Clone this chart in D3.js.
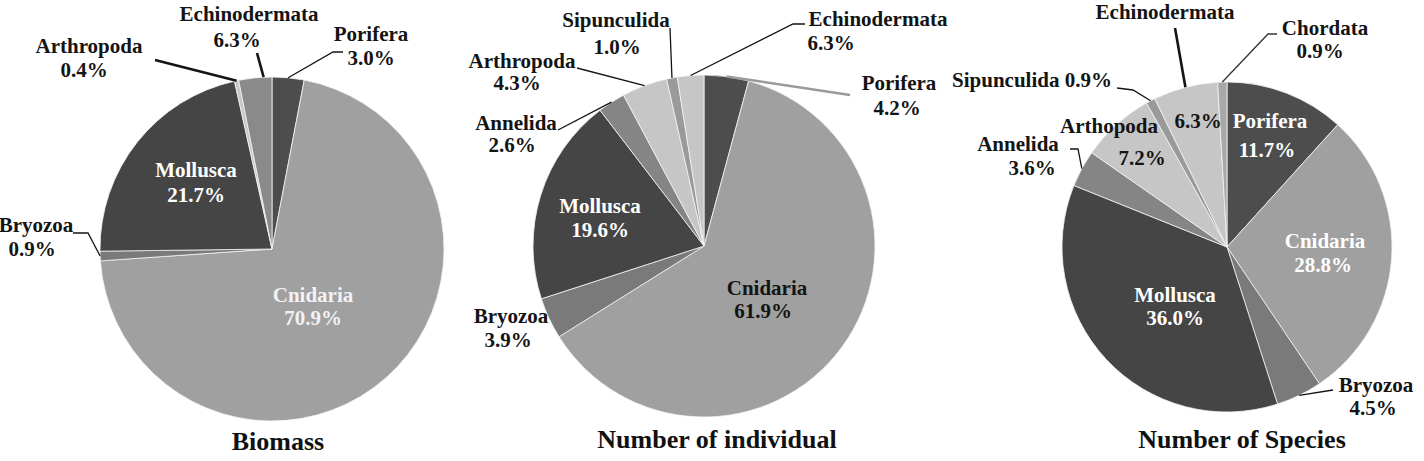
<!DOCTYPE html>
<html>
<head>
<meta charset="utf-8">
<script src="https://cdn.jsdelivr.net/npm/d3@7"></script>
<style>
  body { margin: 0; background: #fff; }
  text { font-family: "Liberation Serif", "Times New Roman", serif; font-weight: bold; }
</style>
</head>
<body>
<svg id="chart"></svg>
<script>
// --- data ---
const biomassTaxa = ["Porifera", "Cnidaria", "Bryozoa", "Mollusca", "Arthropoda", "Echinodermata"]
const biomassShare = [3.0, 70.9, 0.9, 21.7, 0.4, 3.1]          // slice sizes as drawn
const biomassPct = ["3.0%", "70.9%", "0.9%", "21.7%", "0.4%", "6.3%"] // printed labels

const individualTaxa = ["Porifera", "Cnidaria", "Bryozoa", "Mollusca", "Annelida", "Arthropoda", "Sipunculida", "Echinodermata"]
const individualShare = [4.2, 61.9, 3.9, 19.6, 2.6, 4.3, 1.0, 2.5]
const individualPct = ["4.2%", "61.9%", "3.9%", "19.6%", "2.6%", "4.3%", "1.0%", "6.3%"]

const speciesTaxa = ["Porifera", "Cnidaria", "Bryozoa", "Mollusca", "Annelida", "Arthopoda", "Sipunculida", "Echinodermata", "Chordata"]
const speciesShare = [11.7, 28.8, 4.5, 36.0, 3.6, 7.2, 0.9, 6.3, 0.9]
const speciesPct = ["11.7%", "28.8%", "4.5%", "36.0%", "3.6%", "7.2%", "0.9%", "6.3%", "0.9%"]

const titles = ["Biomass", "Number of individual", "Number of Species"]

// --- layout / style ---
const width = 1424
const height = 461
const ink = "#141414"

const svg = d3.select("#chart").attr("width", width).attr("height", height)

const charts = [
  {
    taxa: biomassTaxa, values: biomassShare, pcts: biomassPct, title: titles[0],
    cx: 272, cy: 249, r: 172, titleAt: [6, 201],
    colors: ["#4d4d4d", "#a0a0a0", "#7a7a7a", "#454545", "#c8c8c8", "#8a8a8a"],
    labels: [
      { name: "Porifera", at: [99, -208], pctAt: [99, -184], leader: [[71, -197], [61, -197]] },
      { name: "Cnidaria", at: [41, 53], pctAt: [41, 76], fill: "#f2f2f2" },
      { name: "Bryozoa", at: [-236, -17], pctAt: [-240, 7], leader: [[-199, -16], [-184, -16]] },
      { name: "Mollusca", at: [-76, -72], pctAt: [-76, -47], fill: "#fff" },
      { name: "Arthropoda", at: [-183, -196], pctAt: [-188, -172], leader: [[-117, -189]], lw: 2.6 },
      { name: "Echinodermata", at: [-23, -228], pctAt: [-35, -202], leader: [[-15, -196]], t: 0.75, lw: 2.6 }
    ]
  },
  {
    taxa: individualTaxa, values: individualShare, pcts: individualPct, title: titles[1],
    cx: 704, cy: 246, r: 171, titleAt: [13, 202],
    colors: ["#4d4d4d", "#a0a0a0", "#7a7a7a", "#454545", "#858585", "#c6c6c6", "#9a9a9a", "#c6c6c6"],
    labels: [
      { name: "Porifera", at: [195, -156], pctAt: [193, -131], leader: [[146, -151]], lc: "#9a9a9a", lw: 2.5 },
      { name: "Cnidaria", at: [63, 49], pctAt: [59, 72] },
      { name: "Bryozoa", at: [-193, 77], pctAt: [-196, 101] },
      { name: "Mollusca", at: [-104, -33], pctAt: [-104, -9], fill: "#fff" },
      { name: "Annelida", at: [-188, -116], pctAt: [-192, -94], leader: [[-146, -116]] },
      { name: "Arthropoda", at: [-182, -178], pctAt: [-187, -156], leader: [[-127, -178]] },
      { name: "Sipunculida", at: [-88, -219], pctAt: [-87, -192], leader: [[-34, -218]] },
      { name: "Echinodermata", at: [174, -220], pctAt: [127, -196], leader: [[101, -222], [89, -222]] }
    ]
  },
  {
    taxa: speciesTaxa, values: speciesShare, pcts: speciesPct, title: titles[2],
    cx: 1227, cy: 247, r: 165, titleAt: [15, 201],
    colors: ["#4d4d4d", "#a0a0a0", "#7a7a7a", "#454545", "#858585", "#c6c6c6", "#9a9a9a", "#c6c6c6", "#a8a8a8"],
    labels: [
      { name: "Porifera", at: [43, -119], pctAt: [40, -90], fill: "#fff" },
      { name: "Cnidaria", at: [98, 1], pctAt: [96, 25], fill: "#fff" },
      { name: "Bryozoa", at: [149, 145], pctAt: [146, 168], leader: [[106, 143]] },
      { name: "Mollusca", at: [-52, 55], pctAt: [-52, 78], fill: "#fff" },
      { name: "Annelida", at: [-209, -96], pctAt: [-195, -72], leader: [[-157, -98], [-149, -98]] },
      { name: "Arthopoda", at: [-118, -114], pctAt: [-85, -82] },
      { name: "Sipunculida", at: [-195, -160], inline: true, leader: [[-110, -159], [-94, -157]] },
      { name: "Echinodermata", at: [-62, -228], pctAt: [-29, -119], leader: [[-52, -219]], lw: 2.6 },
      { name: "Chordata", at: [98, -212], pctAt: [93, -189], leader: [[50, -213], [41, -213]], lc: "#333" }
    ]
  }
]

const pie = d3.pie().sort(null).value(d => d.value)
const line = d3.line()

charts.forEach(cfg => {
  const rows = cfg.taxa.map((name, i) => ({ name, value: cfg.values[i], pct: cfg.pcts[i], color: cfg.colors[i] }))
  const arcs = pie(rows)
  const arc = d3.arc().innerRadius(0).outerRadius(cfg.r)

  const g = svg.append("g").attr("transform", `translate(${cfg.cx},${cfg.cy})`)

  g.selectAll("path.slice")
    .data(arcs)
    .join("path")
    .attr("class", "slice")
    .attr("d", arc)
    .attr("fill", d => d.data.color)
    .attr("stroke", "#f4f4f4")
    .attr("stroke-width", 0.8)

  // leader lines first so text sits on top
  cfg.labels.filter(l => l.leader).forEach(l => {
    const a = arcs.find(d => d.data.name === l.name)
    const t = l.t ?? 0.5
    const theta = a.startAngle + t * (a.endAngle - a.startAngle)
    const edge = [cfg.r * Math.sin(theta), -cfg.r * Math.cos(theta)]
    g.append("path")
      .attr("d", line([...l.leader, edge]))
      .attr("fill", "none")
      .attr("stroke", l.lc || ink)
      .attr("stroke-width", l.lw || 1.3)
  })

  cfg.labels.forEach(l => {
    const a = arcs.find(d => d.data.name === l.name)
    const fill = l.fill || ink
    if (l.inline) {
      g.append("text")
        .attr("x", l.at[0]).attr("y", l.at[1])
        .attr("text-anchor", "middle")
        .attr("font-size", 21)
        .attr("fill", fill)
        .text(`${a.data.name} ${a.data.pct}`)
      return
    }
    g.append("text")
      .attr("x", l.at[0]).attr("y", l.at[1])
      .attr("text-anchor", "middle")
      .attr("font-size", 21)
      .attr("fill", fill)
      .text(a.data.name)
    g.append("text")
      .attr("x", l.pctAt[0]).attr("y", l.pctAt[1])
      .attr("text-anchor", "middle")
      .attr("font-size", 21)
      .attr("fill", fill)
      .text(a.data.pct)
  })

  g.append("text")
    .attr("x", cfg.titleAt[0]).attr("y", cfg.titleAt[1])
    .attr("text-anchor", "middle")
    .attr("font-size", 26)
    .attr("fill", "#111")
    .text(cfg.title)
})
</script>
</body>
</html>
